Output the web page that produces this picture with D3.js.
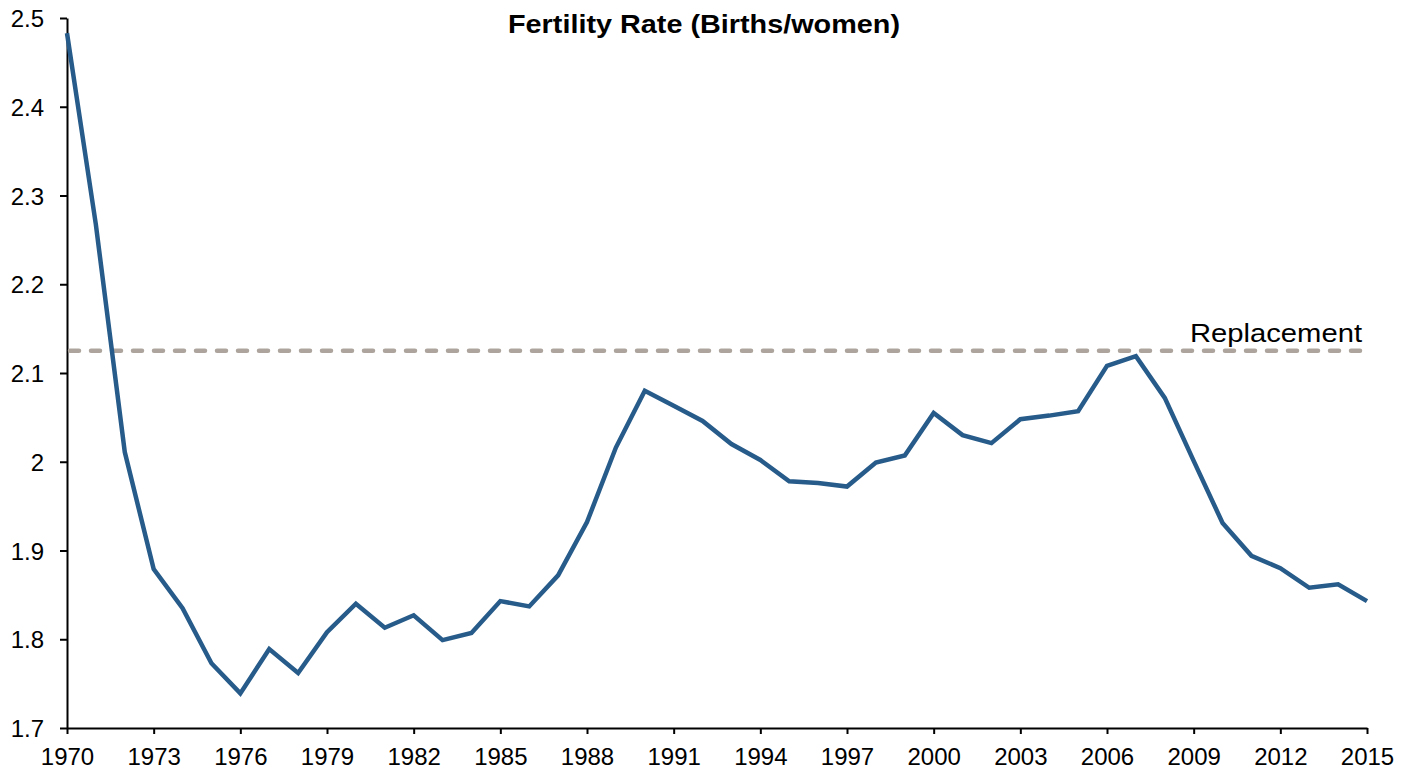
<html>
<head>
<meta charset="utf-8" />
<script src="https://cdnjs.cloudflare.com/ajax/libs/d3/7.8.5/d3.min.js"></script>
<style>
  body { margin: 0; background: #fff; }
  svg text { font-family: "Liberation Sans", Arial, sans-serif; fill: #000; }
</style>
</head>
<body>
<div id="chart"></div>
<script>

// fertility rate, births per woman
var years = d3.range(1970, 2016);
var rates = [
  2.483, 2.267, 2.011, 1.879, 1.835, 1.773, 1.739, 1.789, 1.762, 1.808,
  1.840, 1.813, 1.827, 1.799, 1.807, 1.843, 1.837, 1.872, 1.932, 2.016,
  2.080, 2.063, 2.046, 2.020, 2.002, 1.978, 1.976, 1.972, 1.999, 2.007,
  2.055, 2.030, 2.021, 2.048, 2.052, 2.057, 2.108, 2.119, 2.072, 2.001,
  1.931, 1.894, 1.880, 1.858, 1.862, 1.843
];
var replacement = 2.125;
var xTicks = d3.range(1970, 2016, 3);
var yTicks = [1.7, 1.8, 1.9, 2, 2.1, 2.2, 2.3, 2.4, 2.5];

var W = 1403, H = 770;
var m = {top: 18, right: 36, bottom: 42, left: 67};

var svg = d3.select("#chart").append("svg")
  .attr("width", W).attr("height", H);

var x = d3.scaleLinear().domain([1970, 2015]).range([m.left, W - m.right]);
var y = d3.scaleLinear().domain([1.7, 2.5]).range([H - m.bottom, m.top]);

// axes
var xAxis = svg.append("g")
  .attr("transform", "translate(0," + (H - m.bottom) + ")")
  .call(d3.axisBottom(x).tickValues(xTicks).tickFormat(d3.format("d")).tickSize(6).tickSizeOuter(0));
xAxis.select(".domain").attr("stroke-width", 2);
xAxis.selectAll(".tick line").attr("stroke-width", 2);
xAxis.selectAll("text").attr("font-size", 24).attr("dy", 0).attr("y", 37);

var yAxis = svg.append("g")
  .attr("transform", "translate(" + m.left + ",0)")
  .call(d3.axisLeft(y).tickValues(yTicks).tickFormat(function(d){ return d3.format("")(+d.toFixed(1)); }).tickSize(7).tickSizeOuter(0));
yAxis.select(".domain").attr("stroke-width", 2);
yAxis.selectAll(".tick line").attr("stroke-width", 2);
yAxis.selectAll("text").attr("font-size", 24).attr("x", -23).attr("dy", "0.36em");

// replacement level
svg.append("line")
  .attr("x1", x(1970) + 3).attr("x2", x(2015))
  .attr("y1", y(replacement)).attr("y2", y(replacement))
  .attr("stroke", "#ada59d")
  .attr("stroke-width", 4.5)
  .attr("stroke-linecap", "round")
  .attr("stroke-dasharray", "9,12");

svg.append("text")
  .attr("x", x(2015) - 5).attr("y", y(replacement) - 9)
  .attr("text-anchor", "end")
  .attr("font-size", 26)
  .attr("textLength", 172)
  .attr("lengthAdjust", "spacingAndGlyphs")
  .text("Replacement");

// series
var line = d3.line()
  .x(function(d, i){ return x(years[i]); })
  .y(function(d){ return y(d); });

svg.append("path")
  .datum(rates)
  .attr("d", line)
  .attr("fill", "none")
  .attr("stroke", "#265b8a")
  .attr("stroke-width", 4.5)
  .attr("stroke-linejoin", "miter");

// title
svg.append("text")
  .attr("x", 704).attr("y", 33)
  .attr("text-anchor", "middle")
  .attr("font-size", 25)
  .attr("font-weight", "bold")
  .attr("textLength", 392)
  .attr("lengthAdjust", "spacingAndGlyphs")
  .text("Fertility Rate (Births/women)");

</script>
</body>
</html>
